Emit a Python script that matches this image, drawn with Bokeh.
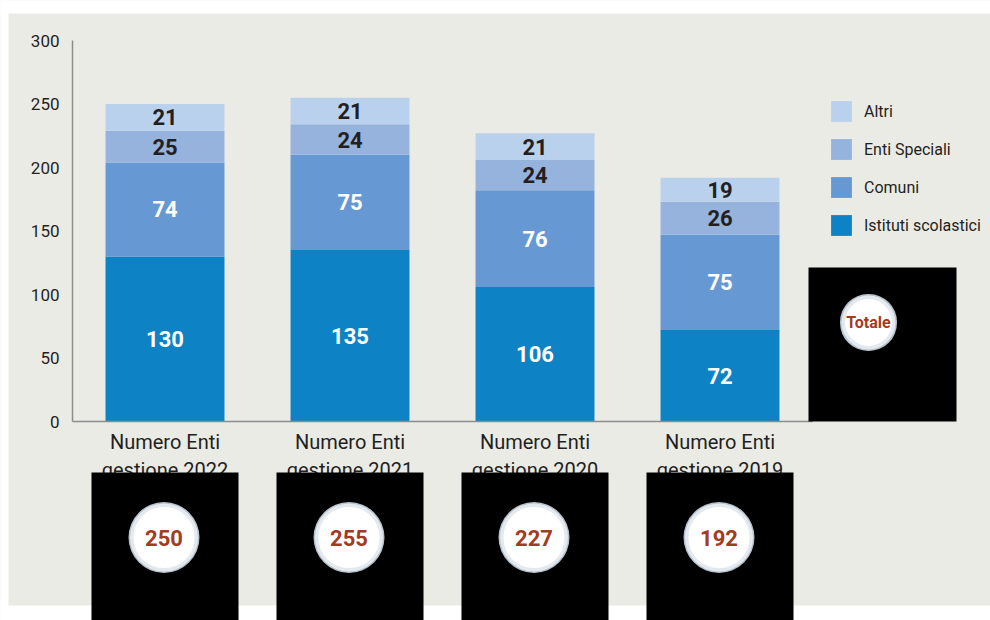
from bokeh.plotting import figure
from bokeh.models import (Range1d, FixedTicker, ColumnDataSource, Legend, LegendItem,
                          BoxAnnotation, Label)
from bokeh.core.properties import value
from bokeh.embed import file_html
from bokeh.resources import INLINE

# ---------------- data ----------------
categories = ["Numero Enti\ngestione 2022", "Numero Enti\ngestione 2021",
              "Numero Enti\ngestione 2020", "Numero Enti\ngestione 2019"]
series_names = ["Istituti scolastici", "Comuni", "Enti Speciali", "Altri"]
istituti = [130, 135, 106, 72]
comuni = [74, 75, 76, 75]
enti_speciali = [25, 24, 24, 26]
altri = [21, 21, 21, 19]
totals = [250, 255, 227, 192]
y_ticks = [0, 50, 100, 150, 200, 250, 300]
totale_label = "Totale"

# ---------------- style ----------------
BG = "#ebebe6"
TXT = "#231f20"
FONT = "Roboto"
colors = ["#0d83c6", "#6699d3", "#95b3dd", "#bad1ed"]
label_colors = ["white", "white", TXT, TXT]

W, H = 990, 620
# where the value axes sit on the canvas (px)
FL, FR, FT, FB = 72, 812, 40, 421
XPX = (FR - FL) / 4.0            # px per x unit
YPX = (FB - FT) / 300.0          # px per y unit


def dx(px):  # canvas px -> data x
    return (px - FL) / XPX


def dy(py):  # canvas px -> data y
    return (FB - py) / YPX


p = figure(width=W, height=H, x_range=Range1d(dx(0), dx(W)), y_range=Range1d(dy(H), dy(0)),
           output_backend="svg", toolbar_location=None, min_border=0,
           background_fill_color=BG, border_fill_color=BG, outline_line_color=None)
p.title.visible = False
p.grid.visible = False

xs = [i + 0.5 for i in range(len(categories))]
keys = ["istituti", "comuni", "enti", "altri"]
src = ColumnDataSource(dict(x=xs, istituti=istituti, comuni=comuni,
                            enti=enti_speciali, altri=altri))
rs = p.vbar_stack(keys, x="x", width=0.643, color=colors, line_color=None, source=src)

# value labels
layers = [istituti, comuni, enti_speciali, altri]
base = [0] * len(xs)
for layer, col in zip(layers, label_colors):
    mids = [b + v / 2 for b, v in zip(base, layer)]
    p.text(x=xs, y=mids, text=[str(v) for v in layer], text_color=col,
           text_font=value(FONT), text_font_style="bold", text_font_size="22px",
           text_align="center", text_baseline="middle")
    base = [b + v for b, v in zip(base, layer)]

# axes (drawn at fixed positions inside the full-canvas frame)
p.xaxis.fixed_location = 0
p.xaxis.bounds = (0, 4)
p.xaxis.ticker = FixedTicker(ticks=xs)
p.xaxis.major_label_overrides = {x: c for x, c in zip(xs, categories)}
p.xaxis.major_label_text_font = FONT
p.xaxis.major_label_text_font_size = "20px"
p.xaxis.major_label_text_color = TXT
p.xaxis.major_label_text_line_height = 1.2
p.xaxis.major_label_standoff = 8
p.yaxis.fixed_location = 0
p.yaxis.bounds = (0, 300)
p.yaxis.ticker = FixedTicker(ticks=y_ticks)
p.yaxis.major_label_text_font = FONT
p.yaxis.major_label_text_font_size = "17px"
p.yaxis.major_label_text_color = TXT
p.yaxis.major_label_standoff = 13
for ax in (p.xaxis, p.yaxis):
    ax.axis_line_color = "#8c8c8c"
    ax.axis_line_width = 1.5
    ax.major_tick_line_color = None
    ax.minor_tick_line_color = None
    ax.major_tick_out = 0
    ax.major_tick_in = 0

# legend
items = [LegendItem(label=n, renderers=[r]) for n, r in zip(series_names, rs)][::-1]
legend = Legend(items=items, location=(828, H - 238), glyph_width=26, glyph_height=26,
                spacing=12, padding=0, margin=0, border_line_color=None,
                background_fill_alpha=0, label_text_font=FONT,
                label_text_font_size="16px", label_text_color=TXT,
                label_standoff=10, label_height=26)
p.add_layout(legend)

# white page strips (top / bottom)
p.add_layout(BoxAnnotation(left=dx(-10), right=dx(W + 10), top=dy(-10), bottom=dy(13),
                           fill_color="white", fill_alpha=1, line_color=None, level="underlay"))
p.add_layout(BoxAnnotation(left=dx(-10), right=dx(W + 10), top=dy(605), bottom=dy(H + 10),
                           fill_color="white", fill_alpha=1, line_color=None, level="underlay"))
p.add_layout(BoxAnnotation(left=dx(-10), right=dx(8), top=dy(-10), bottom=dy(H + 10),
                           fill_color="white", fill_alpha=1, line_color=None, level="underlay"))


def badge(cx, cy, r, text, size):
    for rr, col in ((r, "#b7c2cc"), (r - 1.5, "#e4e9ee"), (r - 5, "#ffffff")):
        p.add_layout(BoxAnnotation(left=dx(cx - rr), right=dx(cx + rr),
                                   top=dy(cy - rr), bottom=dy(cy + rr),
                                   border_radius=int(round(rr)), fill_color=col, fill_alpha=1,
                                   line_color=None, level="overlay"))
    p.add_layout(Label(x=dx(cx), y=dy(cy), text=text, text_font=FONT,
                       text_font_style="bold", text_font_size=size,
                       text_color="#a33b22", text_align="center",
                       text_baseline="middle", level="overlay"))


# black squares with total badges
for x, t in zip(xs, totals):
    cx_px = FL + x * XPX
    p.add_layout(BoxAnnotation(left=dx(cx_px - 73.5), right=dx(cx_px + 73.5),
                               top=dy(472), bottom=dy(H + 10), fill_color="black",
                               fill_alpha=1, line_color=None, level="overlay"))
    badge(cx_px - 1, 537, 35.5, str(t), "22px")

# "Totale" square
p.add_layout(BoxAnnotation(left=dx(808), right=dx(956), top=dy(267), bottom=dy(421),
                           fill_color="black", fill_alpha=1, line_color=None,
                           level="overlay"))
badge(868, 322, 28.5, totale_label, "16px")

open("out.html", "w").write(file_html(p, INLINE))
